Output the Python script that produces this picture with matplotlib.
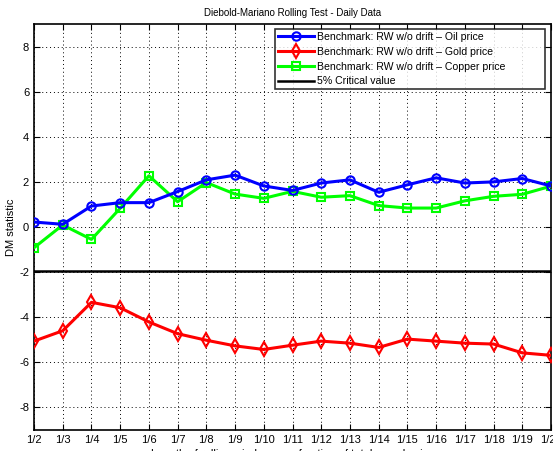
import matplotlib
matplotlib.use("Agg")
import matplotlib.pyplot as plt
import numpy as np

plt.rcParams['font.family'] = ['Liberation Sans', 'DejaVu Sans']
plt.rcParams['axes.unicode_minus'] = False

tick_labels = ['1/2', '1/3', '1/4', '1/5', '1/6', '1/7', '1/8', '1/9', '1/10', '1/11',
               '1/12', '1/13', '1/14', '1/15', '1/16', '1/17', '1/18', '1/19', '1/20']
oil = [0.22, 0.12, 0.93, 1.08, 1.08, 1.57, 2.09, 2.30, 1.82, 1.62,
       1.95, 2.09, 1.54, 1.87, 2.18, 1.95, 2.00, 2.15, 1.82]
gold = [-5.06, -4.60, -3.34, -3.58, -4.21, -4.73, -5.02, -5.27, -5.43, -5.24,
        -5.06, -5.15, -5.34, -4.97, -5.06, -5.15, -5.19, -5.58, -5.69]
copper = [-0.92, 0.09, -0.55, 0.83, 2.27, 1.12, 1.97, 1.46, 1.27, 1.58,
          1.32, 1.39, 0.95, 0.84, 0.84, 1.16, 1.36, 1.45, 1.81]
critical = -1.96

x = np.arange(len(tick_labels))

fig = plt.figure(figsize=(5.53, 4.51), dpi=100)
ax = fig.add_axes([34/553, 1-430/451, (551-34)/553, (430-24)/451])

ax.plot(x, oil, color='#0000ff', lw=2.2, marker='o', ms=6, mfc='none', mew=1.5,
        label='Benchmark: RW w/o drift \u2013 Oil price', zorder=4)
ax.plot(x, gold, color='#ff0000', lw=2.2, marker='d', ms=7, mfc='none', mew=1.5,
        label='Benchmark: RW w/o drift \u2013 Gold price', zorder=4)
ax.plot(x, copper, color='#00ff00', lw=2.2, marker='s', ms=5.5, mfc='none', mew=1.5,
        label='Benchmark: RW w/o drift \u2013 Copper price', zorder=3)
ax.axhline(critical, color='black', lw=1.8, label='5% Critical value', zorder=2)

ax.set_xlim(0, len(tick_labels) - 1)
ax.set_ylim(-9, 9)
ax.set_xticks(x)
ax.set_xticklabels(tick_labels, fontsize=8)
ax.set_yticks([-8, -6, -4, -2, 0, 2, 4, 6, 8])
ax.tick_params(axis='both', direction='in', top=True, right=True, labelsize=8, length=4, width=0.8)
ax.grid(True, color='black', linestyle=(0, (1, 3)), linewidth=0.7)
for s in ax.spines.values():
    s.set_linewidth(1.2)

ax.set_title('Diebold-Mariano Rolling Test - Daily Data', fontsize=7, pad=6)
ax.set_ylabel('DM statistic', fontsize=8, labelpad=2)
ax.set_xlabel('Length of rolling window as a fraction of total sample size', fontsize=8, labelpad=3)

leg = ax.legend(loc='upper left', bbox_to_anchor=(0.466, 0.0, 0.522, 0.988), mode='expand',
                borderaxespad=0.0, fontsize=7.6, frameon=True, fancybox=False,
                borderpad=0.3, labelspacing=0.45, handlelength=3.4, handletextpad=0.3)
leg.get_frame().set_edgecolor('black')
leg.get_frame().set_linewidth(1.2)

fig.savefig('out.png', dpi=100)
